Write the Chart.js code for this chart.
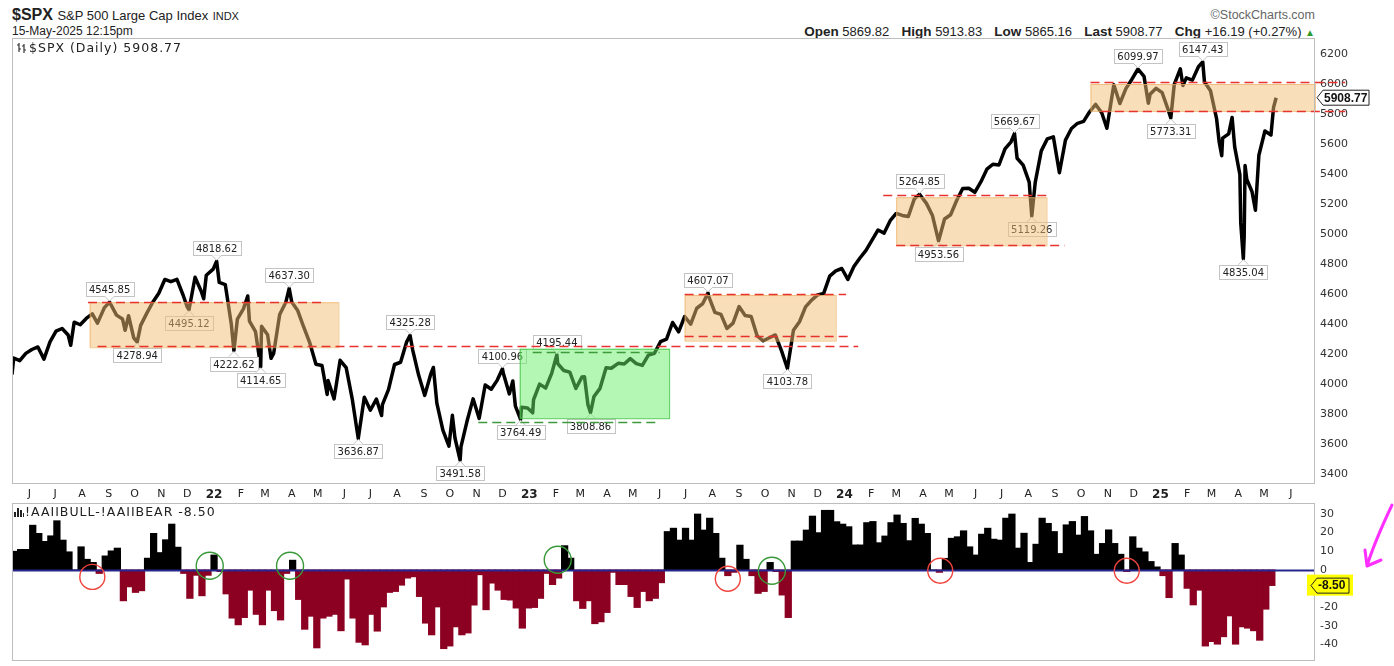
<!DOCTYPE html>
<html>
<head>
<meta charset="utf-8">
<script src="https://cdn.jsdelivr.net/npm/chart.js@4/dist/chart.umd.min.js"></script>
<style>
  body { margin: 0; background: #fff; font-family: "Liberation Sans", Arial, sans-serif; color: #222; }
  #wrap { position: relative; width: 1394px; height: 666px; overflow: hidden; }
  .abs { position: absolute; white-space: nowrap; line-height: 1; }
  canvas { position: absolute; left: 0; }
  .leg { font-family: "DejaVu Sans", Verdana, sans-serif; font-size: 12.5px; letter-spacing: 1px; color: #222; }
  .hd b { font-size: 13.5px; margin-left: 5px; }
  .hd b:first-child { margin-left: 0; }
</style>
</head>
<body>
<div id="wrap">
  <div class="abs" style="left:12px;top:7px;font-size:16px;"><b>$SPX</b> <span style="font-size:13px">S&amp;P 500 Large Cap Index</span> <span style="font-size:11px">INDX</span></div>
  <div class="abs" style="left:12px;top:25px;font-size:12px;">15-May-2025 12:15pm</div>
  <div class="abs" style="right:79px;top:9px;font-size:12.5px;color:#666;">&copy;StockCharts.com</div>
  <div class="abs hd" style="right:79px;top:25px;font-size:13px;"><b>Open</b> 5869.82&nbsp;&nbsp;<b>High</b> 5913.83&nbsp;&nbsp;<b>Low</b> 5865.16&nbsp;&nbsp;<b>Last</b> 5908.77&nbsp;&nbsp;<b>Chg</b> +16.19 (+0.27%) <span style="color:#2a9a2a;font-size:10px">&#9650;</span></div>

  <canvas id="price" width="1394" height="462" style="top:38px"></canvas>
  <canvas id="aaii" width="1394" height="158" style="top:503px"></canvas>

  <div class="abs leg" style="left:17px;top:42px;">
    <svg width="10" height="11" style="vertical-align:-1px;margin-right:2px"><path d="M2 1v9M0 3h2M2 7h2M7 2v9M5 4h2M7 8h2" stroke="#333" stroke-width="1.2" fill="none"/></svg>$SPX (Daily) 5908.77</div>
  <div class="abs leg" style="left:14px;top:506px;">
    <svg width="10" height="11" style="vertical-align:-1px;margin-right:1px"><path d="M0 11V6h2v5zM3 11V2h2v9zM6 11V4h2v7zM9 11V7h1v4z" fill="#222"/></svg>!AAIIBULL-!AAIIBEAR -8.50</div>
</div>

<script>
// ---- data ----
var MONTH_INITIALS = ['J', 'F', 'M', 'A', 'M', 'J', 'J', 'A', 'S', 'O', 'N', 'D'];
var PRICE_TICKS = [3400, 3600, 3800, 4000, 4200, 4400, 4600, 4800, 5000, 5200, 5400, 5600, 5800, 6000, 6200];
var AAII_TICKS = [30, 20, 10, 0, -10, -20, -30, -40];
var X_MIN = '2021-05-12';
var X_MAX = '2025-06-29';
var LAST_PRICE = 5908.77;
var LAST_SPREAD = -8.50;

var PRICE_DATES = [
  '2021-05-12','2021-05-14','2021-05-21','2021-05-28','2021-06-04','2021-06-11','2021-06-18','2021-06-25',
  '2021-07-02','2021-07-09','2021-07-16','2021-07-19','2021-07-23','2021-07-30','2021-08-06','2021-08-13',
  '2021-08-19','2021-08-27','2021-09-02','2021-09-03','2021-09-10','2021-09-17','2021-09-20','2021-09-24',
  '2021-09-30','2021-10-04','2021-10-08','2021-10-15','2021-10-22','2021-10-29','2021-11-05','2021-11-12',
  '2021-11-19','2021-11-26','2021-12-01','2021-12-03','2021-12-10','2021-12-17','2021-12-20','2021-12-23','2021-12-31',
  '2022-01-04','2022-01-07','2022-01-14','2022-01-21','2022-01-24','2022-01-28','2022-02-04','2022-02-09',
  '2022-02-11','2022-02-18','2022-02-24','2022-02-25','2022-03-04','2022-03-08','2022-03-11','2022-03-18',
  '2022-03-25','2022-03-29','2022-04-01','2022-04-08','2022-04-14','2022-04-22','2022-04-29','2022-05-06',
  '2022-05-12','2022-05-13','2022-05-20','2022-05-27','2022-06-03','2022-06-10','2022-06-17','2022-06-24',
  '2022-07-01','2022-07-08','2022-07-14','2022-07-15','2022-07-22','2022-07-29','2022-08-05','2022-08-12',
  '2022-08-16','2022-08-19','2022-08-26','2022-09-02','2022-09-09','2022-09-12','2022-09-16','2022-09-23',
  '2022-09-30','2022-10-04','2022-10-07','2022-10-13','2022-10-14','2022-10-21','2022-10-28','2022-11-04',
  '2022-11-11','2022-11-18','2022-11-25','2022-12-01','2022-12-02','2022-12-09','2022-12-13','2022-12-16',
  '2022-12-22','2022-12-23','2022-12-30',
  '2023-01-05','2023-01-06','2023-01-13','2023-01-20','2023-01-27','2023-02-02','2023-02-03','2023-02-10',
  '2023-02-17','2023-02-24','2023-03-03','2023-03-06','2023-03-10','2023-03-13','2023-03-17','2023-03-24',
  '2023-03-31','2023-04-06','2023-04-14','2023-04-21','2023-04-28','2023-05-05','2023-05-12','2023-05-19',
  '2023-05-26','2023-06-02','2023-06-09','2023-06-16','2023-06-23','2023-06-30','2023-07-07','2023-07-14',
  '2023-07-21','2023-07-27','2023-07-28','2023-08-04','2023-08-11','2023-08-18','2023-08-25','2023-09-01',
  '2023-09-08','2023-09-15','2023-09-22','2023-09-29','2023-10-06','2023-10-13','2023-10-20','2023-10-27',
  '2023-11-03','2023-11-10','2023-11-17','2023-11-24','2023-12-01','2023-12-08','2023-12-15','2023-12-22','2023-12-29',
  '2024-01-05','2024-01-12','2024-01-19','2024-01-26','2024-02-02','2024-02-09','2024-02-16','2024-02-23',
  '2024-03-01','2024-03-08','2024-03-15','2024-03-22','2024-03-28','2024-04-05','2024-04-12','2024-04-19',
  '2024-04-26','2024-05-03','2024-05-10','2024-05-17','2024-05-24','2024-05-31','2024-06-07','2024-06-14',
  '2024-06-21','2024-06-28','2024-07-05','2024-07-12','2024-07-16','2024-07-19','2024-07-26','2024-08-02',
  '2024-08-05','2024-08-09','2024-08-16','2024-08-23','2024-08-30','2024-09-06','2024-09-13','2024-09-20',
  '2024-09-27','2024-10-04','2024-10-11','2024-10-18','2024-10-25','2024-10-31','2024-11-08','2024-11-15',
  '2024-11-22','2024-11-29','2024-12-06','2024-12-13','2024-12-18','2024-12-20','2024-12-27',
  '2025-01-03','2025-01-10','2025-01-13','2025-01-17','2025-01-24','2025-01-27','2025-01-31','2025-02-07',
  '2025-02-14','2025-02-19','2025-02-21','2025-02-28','2025-03-07','2025-03-10','2025-03-13','2025-03-14',
  '2025-03-21','2025-03-25','2025-03-28','2025-04-03','2025-04-04','2025-04-07','2025-04-08','2025-04-09',
  '2025-04-11','2025-04-17','2025-04-21','2025-04-25','2025-05-02','2025-05-09','2025-05-12','2025-05-15'
];
var PRICE_VALUES = [
  4063, 4173, 4156, 4204, 4230, 4247, 4166, 4281,
  4352, 4370, 4327, 4258, 4412, 4395, 4437, 4468,
  4406, 4509, 4545.85, 4535, 4459, 4433, 4358, 4455,
  4308, 4278.94, 4391, 4471, 4545, 4605, 4697, 4682,
  4698, 4595, 4513, 4495.12, 4712, 4620, 4568, 4725, 4766,
  4818.62, 4677, 4663, 4398, 4222.62, 4432, 4501, 4587,
  4419, 4349, 4114.65, 4385, 4329, 4171, 4204, 4463,
  4543, 4637.30, 4546, 4488, 4392, 4272, 4132, 4123,
  3930, 4023, 3901, 4158, 4109, 3901, 3636.87, 3912,
  3825, 3899, 3790, 3863, 3962, 4130, 4145, 4280,
  4325.28, 4228, 4058, 3924, 4067, 4110, 3873, 3693,
  3586, 3791, 3640, 3491.58, 3583, 3753, 3901, 3770,
  3993, 3965, 4026, 4100.96, 4072, 3934, 4020, 3852,
  3764.49, 3845, 3840,
  3808, 3895, 3999, 3973, 4071, 4195.44, 4136, 4090,
  4079, 3970, 4046, 4048, 3862, 3808.86, 3917, 3971,
  4109, 4105, 4138, 4133, 4169, 4136, 4124, 4192,
  4205, 4282, 4299, 4410, 4348, 4450, 4399, 4505,
  4536, 4607.07, 4582, 4478, 4464, 4370, 4406, 4516,
  4457, 4450, 4320, 4288, 4308, 4327, 4224, 4103.78,
  4358, 4415, 4514, 4559, 4594, 4604, 4719, 4754, 4770,
  4697, 4784, 4840, 4891, 4959, 5027, 5006, 5089,
  5137, 5124, 5117, 5234, 5264.85, 5204, 5123, 4953.56,
  5100, 5128, 5223, 5303, 5305, 5278, 5347, 5432,
  5465, 5460, 5567, 5615, 5669.67, 5505, 5459, 5346,
  5119.26, 5344, 5554, 5634, 5648, 5408, 5626, 5703,
  5738, 5751, 5815, 5864, 5808, 5705, 5995, 5870,
  5969, 6032, 6099.97, 6051, 5872, 5931, 5971,
  5942, 5827, 5773.31, 5997, 6101, 5990, 6041, 6026,
  6115, 6147.43, 6013, 5955, 5770, 5614, 5522, 5639,
  5668, 5777, 5581, 5397, 5074, 4835.04, 4982, 5457,
  5363, 5283, 5158, 5525, 5687, 5660, 5844, 5908.77
];

// weekly AAII bull-bear spread, one bar a week from AAII_START
var AAII_START = '2021-05-15';
var AAII_SPREAD = [
  10, 11, 11, 24, 19.6, 15.3, 18.3, 26.4, 16, 9.7, 0, 12.4, 5.7, 4, -2, 7.5, 10.2, 11.7,
  -16.7, -9.2, -12.2, -11.3, 6.3, 19.6, 9.3, 16.2, 24.6, 12.2, -2, -15.4, -3, -14, -3, 8, -1,
  -13, -26, -29.6, -25.7, -11, -24, -29.6, -11, -22, -27, -2, 5.2, -16, -32, -25, -42, -26, -25, -24,
  -32.8, -5, -26, -39, -40.4, -24, -33, -20, -12.2, -11.7, -8.3, -4.5, -3.8, -14.4, -28.7, -35, -20,
  -42.4, -41, -30.7, -35, -34, -19, -2.7, -21.5, -7.2, -11, -16, -16.3, -20.6, -31.4, -20.6, -20.3,
  -15.4, -2, -8, -4.5, 13, 6.3, -16.7, -20.8, -16.7, -29, -28, -23, -1.4, -8, -8, -14.4, -20.3, -11.7,
  -16.7, -15.4,
  -7, 20.6, 22.4, 16, 22.4, 16, 30, 21.4, 27.8, 19.6, 6.3, -3.2, -1.4, 13.3, 5.7, -3.2, -12.7, -11.7,
  4, -1, -13.6, -25.7, 15.5, 15.5, 21.4, 28.9, 20, 32, 32, 25.9, 24.6, 23.2, 13.4, 13.4, 25.4, 26,
  14.6, 18.2, 25.4, 29.5, 25, 15.7, 27.7, 24.6, 19.6, 0, -1.4, 6.2, 17, 17.8, 21, 12.4, 8,
  19.2, 22.4, 16.5, 16, 27.8, 30, 11.7, 19.7, 4, 13.8, 27.8, 25, 20.6, 8.8, 24.2, 26, 18.7, 28.7,
  21, 8.4, 14.2, 21.5, 14.2, 8.4, -1, 17.8, 11.7, 9.7, 4.5, 1.6, -3.2, -15, 14.2, 8, -10, -18.9,
  -11, -41, -38.6, -40, -36, -24.8, -40, -30.7, -31.4, -32.8, -37.9, -21.2, -8.5
];

// annotations drawn on the price panel
var CALLOUTS = [
  ['2021-09-02', 4545.85, 'up'], ['2021-10-04', 4278.94, 'down'], ['2021-12-03', 4495.12, 'down'],
  ['2022-01-04', 4818.62, 'up'], ['2022-01-24', 4222.62, 'down'], ['2022-02-24', 4114.65, 'down'],
  ['2022-03-29', 4637.30, 'up'], ['2022-06-17', 3636.87, 'down'], ['2022-08-16', 4325.28, 'up'],
  ['2022-10-13', 3491.58, 'down'], ['2022-12-01', 4100.96, 'up'], ['2022-12-22', 3764.49, 'down'],
  ['2023-02-02', 4195.44, 'up'], ['2023-03-13', 3808.86, 'down'], ['2023-07-27', 4607.07, 'up'],
  ['2023-10-27', 4103.78, 'down'], ['2024-03-28', 5264.85, 'up'], ['2024-04-19', 4953.56, 'down'],
  ['2024-07-16', 5669.67, 'up'], ['2024-08-05', 5119.26, 'down'], ['2024-12-06', 6099.97, 'up'],
  ['2025-01-13', 5773.31, 'down'], ['2025-02-19', 6147.43, 'up'], ['2025-04-07', 4835.04, 'down']
];
var ZONES = [
  ['2021-08-10', '2022-05-25', 4545, 4245, 'orange'],
  ['2022-12-21', '2023-06-12', 4235, 3772, 'green'],
  ['2023-06-30', '2023-12-22', 4593, 4289, 'orange'],
  ['2024-03-01', '2024-08-22', 5245, 4925, 'orange'],
  ['2024-10-12', '2025-06-29', 6000, 5820, 'orange']
];
var LEVELS = [
  ['2021-08-08', '2022-05-07', 4545, 'red'],
  ['2021-08-19', '2024-01-17', 4255, 'red'],
  ['2023-01-05', '2023-06-01', 4211, 'green'],
  ['2022-11-03', '2023-06-01', 3749, 'green'],
  ['2023-06-30', '2024-01-03', 4600, 'red'],
  ['2023-06-30', '2024-01-07', 4320, 'red'],
  ['2024-02-15', '2024-08-22', 5262, 'red'],
  ['2024-03-01', '2024-09-12', 4930, 'red'],
  ['2024-10-12', '2025-08-03', 6013, 'red'],
  ['2024-10-24', '2025-08-03', 5820, 'red']
];
// hand drawn rings on the sentiment panel
var RINGS = [
  ['2021-08-13', -3.8, 'red'], ['2021-12-27', 2.2, 'green'], ['2022-03-30', 2.2, 'green'],
  ['2023-02-03', 5.4, 'green'], ['2023-08-19', -4.8, 'red'], ['2023-10-09', -0.5, 'green'],
  ['2024-04-21', -0.5, 'red'], ['2024-11-23', -0.5, 'red']
];

// ---- helpers ----
var DAY0 = Date.UTC(2021, 0, 1);
function dayOf(s) {
  var p = s.split('-').map(Number);
  return (Date.UTC(p[0], p[1] - 1, p[2]) - DAY0) / 86400000;
}
var FONT = '"DejaVu Sans", Verdana, sans-serif';
var ZONE_FILL = { orange: 'rgba(241,189,115,0.5)', green: 'rgba(105,240,105,0.5)' };
var ZONE_EDGE = { orange: 'rgba(236,176,100,0.7)', green: 'rgba(70,200,70,0.9)' };
var LEVEL_COLOR = { red: '#e8322c', green: '#3c9a3c' };

var monthTicks = [];
for (var yr = 2021; yr <= 2025; yr++) {
  for (var m = 0; m < 12; m++) {
    var d = (Date.UTC(yr, m, 1) - DAY0) / 86400000;
    if (d <= dayOf(X_MIN) || d >= dayOf(X_MAX)) continue;
    monthTicks.push({ value: d, label: m === 0 ? String(yr).slice(2) : MONTH_INITIALS[m] });
  }
}

// keep the plot areas exactly where the panels sit
function fixRightAxis(s) {
  s.width = 79;
  s.paddingTop = 0;
  s.paddingBottom = 0;
}
function fixBottomAxis(s) {
  s.height = 16;
  s.paddingLeft = 0;
  s.paddingRight = 0;
}

function panelBorder(chart) {
  var a = chart.chartArea, ctx = chart.ctx;
  ctx.save();
  ctx.strokeStyle = '#bdbdbd';
  ctx.lineWidth = 1;
  ctx.strokeRect(a.left + 0.5, a.top + 0.5, a.right - a.left - 1, a.bottom - a.top - 1);
  ctx.restore();
}

function valueTag(ctx, x, y, text, w) {
  ctx.beginPath();
  ctx.moveTo(x, y);
  ctx.lineTo(x + 6, y - 7.5);
  ctx.lineTo(x + w, y - 7.5);
  ctx.lineTo(x + w, y + 7.5);
  ctx.lineTo(x + 6, y + 7.5);
  ctx.closePath();
  ctx.fill();
  ctx.strokeStyle = '#222';
  ctx.lineWidth = 1;
  ctx.stroke();
  ctx.fillStyle = '#111';
  ctx.font = 'bold 12px "Liberation Sans", Arial, sans-serif';
  ctx.textBaseline = 'middle';
  ctx.textAlign = 'left';
  ctx.fillText(text, x + 7, y + 0.5);
}

var priceOverlay = {
  id: 'priceOverlay',
  afterDatasetsDraw: function (chart) {
    var ctx = chart.ctx, x = chart.scales.x, y = chart.scales.y;
    ctx.save();
    // value callouts
    ctx.font = '10px ' + FONT;
    ctx.textAlign = 'center';
    ctx.textBaseline = 'middle';
    CALLOUTS.forEach(function (c) {
      var px = x.getPixelForValue(dayOf(c[0])), py = y.getPixelForValue(c[1]);
      var text = c[1].toFixed(2);
      var w = Math.round(ctx.measureText(text).width) + 7, h = 14;
      var edge = c[2] === 'up' ? py - 6 : py + 6;
      var top = c[2] === 'up' ? edge - h : edge;
      var tip = c[2] === 'up' ? py - 1 : py + 1;
      var bx = Math.round(px - w / 2) + 0.5, by = Math.round(top) + 0.5;
      ctx.fillStyle = '#fff';
      ctx.strokeStyle = '#c4c4c4';
      ctx.lineWidth = 1;
      ctx.fillRect(bx, by, w, h);
      ctx.strokeRect(bx, by, w, h);
      ctx.beginPath();
      ctx.moveTo(px - 5, edge);
      ctx.lineTo(px, tip);
      ctx.lineTo(px + 5, edge);
      ctx.closePath();
      ctx.fill();
      ctx.beginPath();
      ctx.moveTo(px - 5, edge);
      ctx.lineTo(px, tip);
      ctx.lineTo(px + 5, edge);
      ctx.stroke();
      ctx.fillStyle = '#222';
      ctx.fillText(text, px, by + h / 2 + 0.5);
    });
    // shaded zones
    ZONES.forEach(function (z) {
      var x0 = x.getPixelForValue(dayOf(z[0]));
      var x1 = Math.min(x.getPixelForValue(dayOf(z[1])), chart.chartArea.right);
      var y0 = y.getPixelForValue(z[2]), y1 = y.getPixelForValue(z[3]);
      ctx.fillStyle = ZONE_FILL[z[4]];
      ctx.fillRect(x0, y0, x1 - x0, y1 - y0);
      ctx.strokeStyle = ZONE_EDGE[z[4]];
      ctx.strokeRect(x0 + 0.5, y0 + 0.5, x1 - x0, y1 - y0);
    });
    // dashed levels
    ctx.lineWidth = 1.6;
    ctx.setLineDash([9, 5]);
    LEVELS.forEach(function (l) {
      var x0 = x.getPixelForValue(dayOf(l[0])), x1 = x.getPixelForValue(dayOf(l[1]));
      var py = Math.round(y.getPixelForValue(l[2])) + 0.5;
      ctx.strokeStyle = LEVEL_COLOR[l[3]];
      ctx.beginPath();
      ctx.moveTo(x0, py);
      ctx.lineTo(x1, py);
      ctx.stroke();
    });
    ctx.restore();
  },
  afterDraw: function (chart) {
    panelBorder(chart);
    var ctx = chart.ctx;
    ctx.save();
    ctx.fillStyle = '#fff';
    valueTag(ctx, chart.chartArea.right + 2, chart.scales.y.getPixelForValue(LAST_PRICE), LAST_PRICE.toFixed(2), 52);
    ctx.restore();
  }
};

var aaiiOverlay = {
  id: 'aaiiOverlay',
  afterDatasetsDraw: function (chart) {
    var ctx = chart.ctx, x = chart.scales.x, y = chart.scales.y, a = chart.chartArea;
    ctx.save();
    var zy = Math.round(y.getPixelForValue(0)) + 0.5;
    ctx.strokeStyle = '#26268f';
    ctx.lineWidth = 2;
    ctx.beginPath();
    ctx.moveTo(a.left, zy);
    ctx.lineTo(a.right, zy);
    ctx.stroke();
    ctx.lineWidth = 1.4;
    RINGS.forEach(function (r) {
      ctx.strokeStyle = r[2] === 'red' ? '#f0443c' : '#3a9a3a';
      ctx.beginPath();
      ctx.arc(x.getPixelForValue(dayOf(r[0])), y.getPixelForValue(r[1]), r[2] === 'red' ? 12.5 : 13.5, 0, Math.PI * 2);
      ctx.stroke();
    });
    ctx.restore();
  },
  afterDraw: function (chart) {
    panelBorder(chart);
    var ctx = chart.ctx, a = chart.chartArea;
    var ty = chart.scales.y.getPixelForValue(LAST_SPREAD);
    ctx.save();
    ctx.fillStyle = '#ffff00';
    ctx.fillRect(a.right - 8, ty - 11, 46, 21);
    valueTag(ctx, a.right - 4, ty, LAST_SPREAD.toFixed(2), 38);
    // magenta hand drawn arrow
    ctx.strokeStyle = '#ff30ff';
    ctx.lineWidth = 3;
    ctx.lineCap = 'round';
    ctx.lineJoin = 'round';
    ctx.beginPath();
    ctx.moveTo(1392, 2);
    ctx.quadraticCurveTo(1374, 40, 1367, 63);
    ctx.moveTo(1367, 63);
    ctx.lineTo(1365, 47);
    ctx.moveTo(1367, 63);
    ctx.lineTo(1381, 57);
    ctx.stroke();
    ctx.restore();
  }
};

var xRange = { min: dayOf(X_MIN), max: dayOf(X_MAX) };

new Chart(document.getElementById('price'), {
  type: 'line',
  data: {
    datasets: [{
      data: PRICE_DATES.map(function (d, i) { return { x: dayOf(d), y: PRICE_VALUES[i] }; }),
      borderColor: '#000',
      borderWidth: 3.5,
      pointRadius: 0,
      tension: 0,
      borderJoinStyle: 'round'
    }]
  },
  options: {
    responsive: false,
    animation: false,
    events: [],
    layout: { padding: { left: 12, right: 0, top: 0, bottom: 0 } },
    plugins: { legend: { display: false }, tooltip: { enabled: false } },
    scales: {
      x: {
        type: 'linear', min: xRange.min, max: xRange.max, offset: false,
        grid: { display: false, drawTicks: false }, border: { display: false },
        afterBuildTicks: function (s) { s.ticks = monthTicks.map(function (t) { return { value: t.value }; }); },
        afterFit: fixBottomAxis,
        ticks: {
          autoSkip: false, maxRotation: 0, padding: 4, color: '#222',
          callback: function (v, i) { return monthTicks[i] ? monthTicks[i].label : ''; },
          font: function (c) {
            var yearTick = c.index !== undefined && monthTicks[c.index] && /\d/.test(monthTicks[c.index].label);
            return { family: FONT, size: yearTick ? 12 : 11, weight: yearTick ? 'bold' : 'normal' };
          }
        }
      },
      y: {
        position: 'right', min: 3333.3, max: 6306.7,
        grid: { display: false, drawTicks: false }, border: { display: false },
        afterBuildTicks: function (s) { s.ticks = PRICE_TICKS.map(function (v) { return { value: v }; }); },
        afterFit: fixRightAxis,
        ticks: { padding: 5, color: '#333', font: { family: FONT, size: 11 }, callback: function (v) { return String(v); } }
      }
    }
  },
  plugins: [priceOverlay]
});

new Chart(document.getElementById('aaii'), {
  type: 'bar',
  data: {
    datasets: [{
      data: AAII_SPREAD.map(function (v, i) { return { x: dayOf(AAII_START) + 7 * i, y: v }; }),
      backgroundColor: function (c) { return c.raw && c.raw.y < 0 ? '#8c0022' : '#000'; },
      borderWidth: 0,
      barThickness: 6.6
    }]
  },
  options: {
    responsive: false,
    animation: false,
    events: [],
    layout: { padding: { left: 12, right: 0, top: 0, bottom: 0 } },
    plugins: { legend: { display: false }, tooltip: { enabled: false } },
    scales: {
      x: { type: 'linear', min: xRange.min, max: xRange.max, offset: false, display: false },
      y: {
        position: 'right', min: -49, max: 35.9,
        grid: { display: false, drawTicks: false }, border: { display: false },
        afterBuildTicks: function (s) { s.ticks = AAII_TICKS.map(function (v) { return { value: v }; }); },
        afterFit: fixRightAxis,
        ticks: { padding: 5, color: '#333', font: { family: FONT, size: 11 }, callback: function (v) { return String(v); } }
      }
    }
  },
  plugins: [aaiiOverlay]
});
</script>
</body>
</html>
